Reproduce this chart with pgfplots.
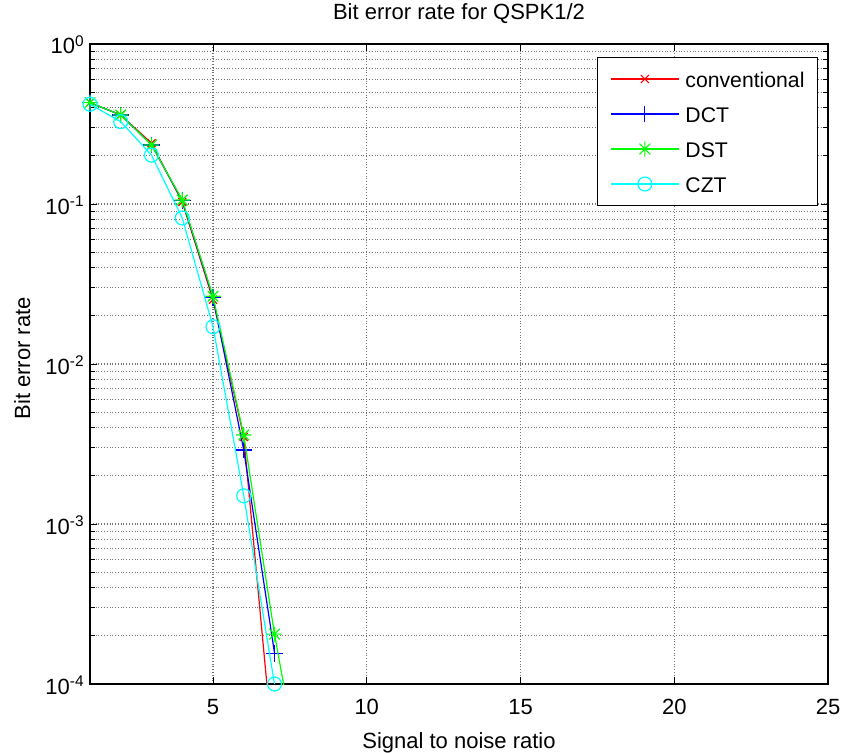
\documentclass[border=0pt]{standalone}
\usepackage{fontspec}
\setmainfont{Liberation Sans}
\usepackage{pgfplots}
\pgfplotsset{compat=1.18}
\pgfdeclareplotmark{mstar}{%
  \pgfpathmoveto{\pgfqpoint{-\pgfplotmarksize}{0pt}}\pgfpathlineto{\pgfqpoint{\pgfplotmarksize}{0pt}}%
  \pgfpathmoveto{\pgfqpoint{0pt}{-\pgfplotmarksize}}\pgfpathlineto{\pgfqpoint{0pt}{\pgfplotmarksize}}%
  \pgfpathmoveto{\pgfqpoint{-0.7\pgfplotmarksize}{-0.7\pgfplotmarksize}}\pgfpathlineto{\pgfqpoint{0.7\pgfplotmarksize}{0.7\pgfplotmarksize}}%
  \pgfpathmoveto{\pgfqpoint{-0.7\pgfplotmarksize}{0.7\pgfplotmarksize}}\pgfpathlineto{\pgfqpoint{0.7\pgfplotmarksize}{-0.7\pgfplotmarksize}}%
  \pgfusepathqstroke}
\newcommand\fs{\fontsize{11bp}{13bp}\selectfont}
\definecolor{mred}{rgb}{1,0,0}
\definecolor{mblue}{rgb}{0,0,1}
\definecolor{mgreen}{rgb}{0,1,0}
\definecolor{mcyan}{rgb}{0,1,1}
\begin{document}
\begin{tikzpicture}
\useasboundingbox (-45bp,-34.5bp) rectangle (376bp,342bp);
\begin{semilogyaxis}[
  at={(0,0)}, anchor=south west,
  scale only axis, width=369bp, height=320bp,
  clip mode=individual,
  xmin=1, xmax=25, ymin=1e-4, ymax=1,
  xtick={5,10,15,20,25}, xticklabels={5,10,15,20,25},
  ytick={1e-4,1e-3,1e-2,1e-1,1},
  yticklabels={10\textsuperscript{-4},10\textsuperscript{-3},10\textsuperscript{-2},10\textsuperscript{-1},10\textsuperscript{0}},
  xtick pos=both, ytick pos=both,
  tick align=inside,
  major tick length=3.5bp, minor tick length=2.5bp,
  every tick/.style={black, line width=0.5bp},
  axis line style={line width=0.75bp},
  grid=both,
  major grid style={densely dotted, black!55, line width=0.55bp},
  minor grid style={densely dotted, black!55, line width=0.55bp},
  xticklabel style={font=\fs, anchor=base, yshift=-15bp, inner sep=0pt},
  yticklabel style={font=\fs, anchor=base east, xshift=-2.5bp, yshift=-5bp, inner sep=0pt},
  xlabel={Signal to noise ratio},
  xlabel style={font=\fs, at={(axis description cs:0.5,-0.1)}, anchor=base, inner sep=0pt},
  ylabel={Bit error rate},
  ylabel style={font=\fs, at={(axis description cs:-0.0813,0.509)}, anchor=base, inner sep=0pt},
  legend style={at={(axis description cs:1,1)}, anchor=north east, xshift=-5bp, yshift=-6.5bp,
    draw=black, line width=0.5bp, fill=white, inner xsep=6.5bp, inner ysep=2bp,
    row sep=0pt, column sep=3bp, font=\fontsize{10.6bp}{13bp}\selectfont,
    nodes={inner sep=0pt, text height=12.75bp, text depth=4.75bp}},
  legend cell align=left,
  legend image code/.code={\draw[mark repeat=2,mark phase=2,#1] plot coordinates {(0bp,0bp) (17bp,0bp) (34bp,0bp)};},
  every axis plot/.append style={line width=0.6bp, mark options={solid, line width=0.6bp}},
]
\addplot[color=mred, mark=x, mark size=2.8bp] coordinates {
 (1,0.43) (2,0.36) (3,0.24) (4,0.103) (5,0.0252) (6,0.0035) (7,3.1e-5)};
\addlegendentry{conventional}
\addplot[color=mblue, mark=+, mark size=4.2bp] coordinates {
 (1,0.43) (2,0.36) (3,0.234) (4,0.105) (5,0.026) (6,0.0029) (7,1.56e-4)};
\addlegendentry{DCT}
\addplot[color=mgreen, mark=mstar, mark size=3.8bp] coordinates {
 (1,0.43) (2,0.36) (3,0.234) (4,0.106) (5,0.0265) (6,0.0036) (7,2.05e-4) (8,1.8e-5)};
\addlegendentry{DST}
\addplot[color=mcyan, mark=o, mark size=3.5bp] coordinates {
 (1,0.42) (2,0.327) (3,0.202) (4,0.0818) (5,0.0171) (6,0.0015) (7,1.0e-4)};
\addlegendentry{CZT}
\node[font=\fs, anchor=base, inner sep=0pt] at (axis description cs:0.5,1.0375) {Bit error rate for QSPK1/2};
\end{semilogyaxis}
\end{tikzpicture}
\end{document}
